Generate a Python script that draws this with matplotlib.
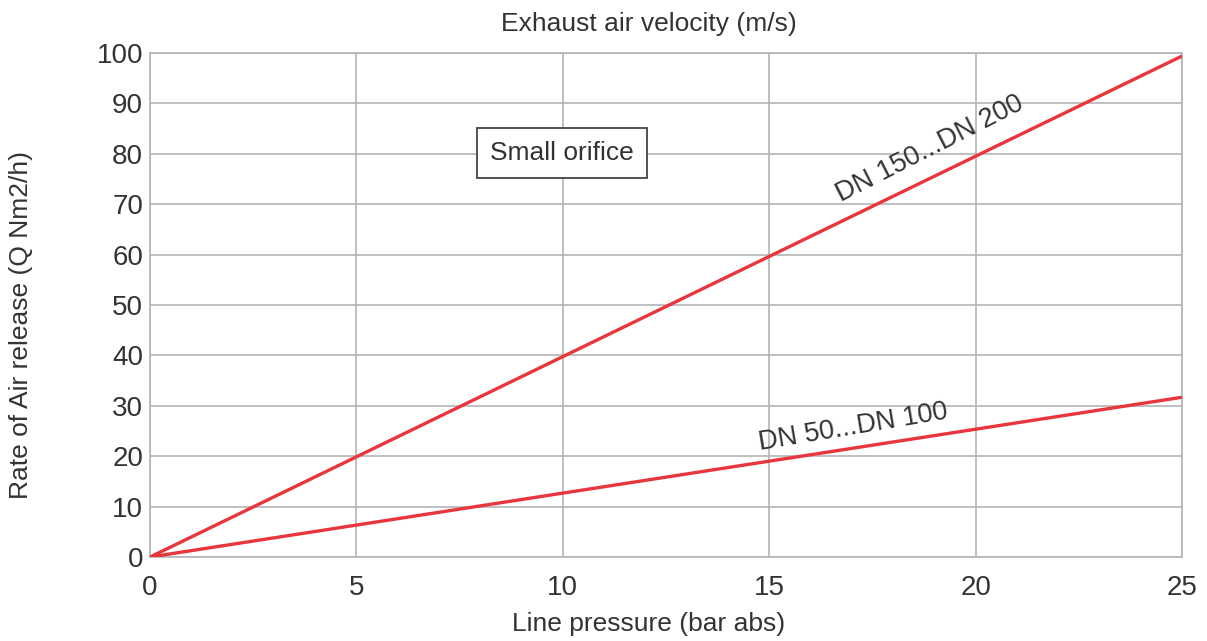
import matplotlib.pyplot as plt

plt.rcParams['font.family'] = ['Liberation Sans', 'DejaVu Sans']

# data
pressure = [0, 25]
dn150_200 = [0, 99.4]
dn50_100 = [0, 31.7]

x_ticks = [0, 5, 10, 15, 20, 25]
y_ticks = list(range(0, 101, 10))

txt = '#333333'
grid_col = '#b4b4b4'
red = '#e8363c'

fig = plt.figure(figsize=(12.07, 6.41), dpi=100)
ax = fig.add_axes([0.1243, 0.131, 0.855, 0.7863])

ax.plot(pressure, dn150_200, color=red, lw=2.4, solid_capstyle='butt', zorder=3)
ax.plot(pressure, dn50_100, color=red, lw=2.4, solid_capstyle='butt', zorder=3)

ax.set_xlim(0, 25)
ax.set_ylim(0, 100)
ax.set_xticks(x_ticks)
ax.set_yticks(y_ticks)
ax.grid(True, color=grid_col, lw=1.2)
ax.set_axisbelow(True)
for s in ax.spines.values():
    s.set_color(grid_col)
    s.set_linewidth(1.2)
ax.tick_params(length=0, labelsize=20, colors=txt)
ax.tick_params(axis='x', pad=13)
ax.tick_params(axis='y', pad=5)

ax.set_xlabel('Line pressure (bar abs)', fontsize=19, color=txt, labelpad=8, x=0.483)
ax.set_ylabel('Rate of Air release (Q Nm2/h)', fontsize=19, color=txt, labelpad=46, y=0.46)
ax.set_title('Exhaust air velocity (m/s)', fontsize=19, color=txt, pad=16, x=0.483)

ax.text(16.8, 69.3, 'DN 150...DN 200', fontsize=19.5, color=txt, rotation=27,
        rotation_mode='anchor', ha='left', va='bottom')
ax.text(14.8, 20.0, 'DN 50...DN 100', fontsize=19.5, color=txt, rotation=9.5,
        rotation_mode='anchor', ha='left', va='bottom')
ax.text(9.98, 80.2, 'Small orifice', fontsize=19, color=txt, ha='center', va='center',
        bbox=dict(boxstyle='square,pad=0.5', fc='white', ec='#444444', lw=1.3), zorder=4)

fig.savefig('out.png', dpi=100)
